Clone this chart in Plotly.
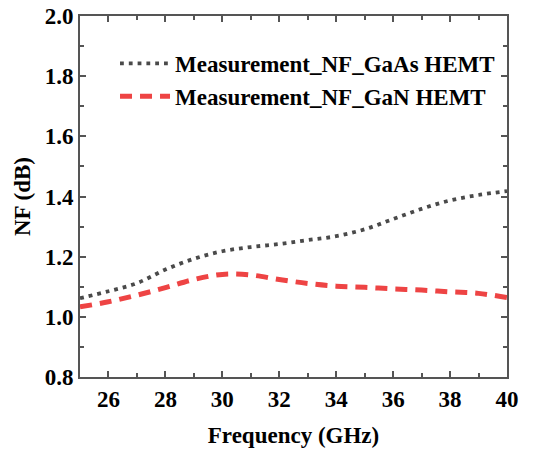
import plotly.graph_objects as go

freq = [25, 26, 27, 28, 29, 30, 31, 32, 33, 34, 35, 36, 37, 38, 39, 40]
nf_gaas = [1.062, 1.085, 1.112, 1.157, 1.193, 1.218, 1.232, 1.242, 1.255, 1.268, 1.291, 1.325, 1.359, 1.387, 1.405, 1.418]
nf_gan = [1.033, 1.050, 1.072, 1.097, 1.124, 1.141, 1.139, 1.124, 1.111, 1.102, 1.098, 1.093, 1.089, 1.083, 1.078, 1.064]

font_family = "Liberation Serif, Times New Roman, serif"
axis_color = "#555555"

fig = go.Figure()
fig.add_trace(go.Scatter(x=freq, y=nf_gaas, mode="lines", name="<b>Measurement_NF_GaAs HEMT</b>",
                         line=dict(color="#4a4a4a", width=3.8, dash="3.8px,5px", shape="spline")))
fig.add_trace(go.Scatter(x=freq, y=nf_gan, mode="lines", name="<b>Measurement_NF_GaN HEMT</b>",
                         line=dict(color="#ee4444", width=5, dash="12px,8px", shape="spline")))

axis_common = dict(showline=True, linecolor=axis_color, linewidth=2, mirror="allticks",
                   ticks="inside", ticklen=6, tickwidth=1.5, tickcolor=axis_color,
                   showgrid=False, zeroline=False, automargin=False,
                   tickfont=dict(family=font_family, size=23, color="black"))

fig.update_xaxes(range=[25, 40], dtick=2, tick0=0,
                 minor=dict(ticks="inside", dtick=1, ticklen=4, tickcolor=axis_color),
                 title=dict(text="<b>Frequency (GHz)</b>", font=dict(family=font_family, size=23, color="black"), standoff=16),
                 tickprefix="<b>", ticksuffix="</b>", **axis_common)
fig.update_yaxes(range=[0.8, 2.0], dtick=0.2, tick0=0, tickformat=".1f",
                 minor=dict(ticks="inside", dtick=0.1, ticklen=4, tickcolor=axis_color),
                 title=dict(text="<b>NF (dB)</b>", font=dict(family=font_family, size=23, color="black"), standoff=8),
                 tickprefix="<b>", ticksuffix="</b>", **axis_common)

fig.update_layout(
    width=549, height=452,
    margin=dict(l=80, r=42, t=16, b=75),
    plot_bgcolor="white", paper_bgcolor="white",
    font=dict(family=font_family, color="black"),
    showlegend=True,
    legend=dict(x=0.082, y=0.928, xanchor="left", yanchor="top", bgcolor="rgba(0,0,0,0)",
                font=dict(family=font_family, size=23, color="black"),
                itemwidth=50, tracegroupgap=0),
)

fig.write_html("out.html")
